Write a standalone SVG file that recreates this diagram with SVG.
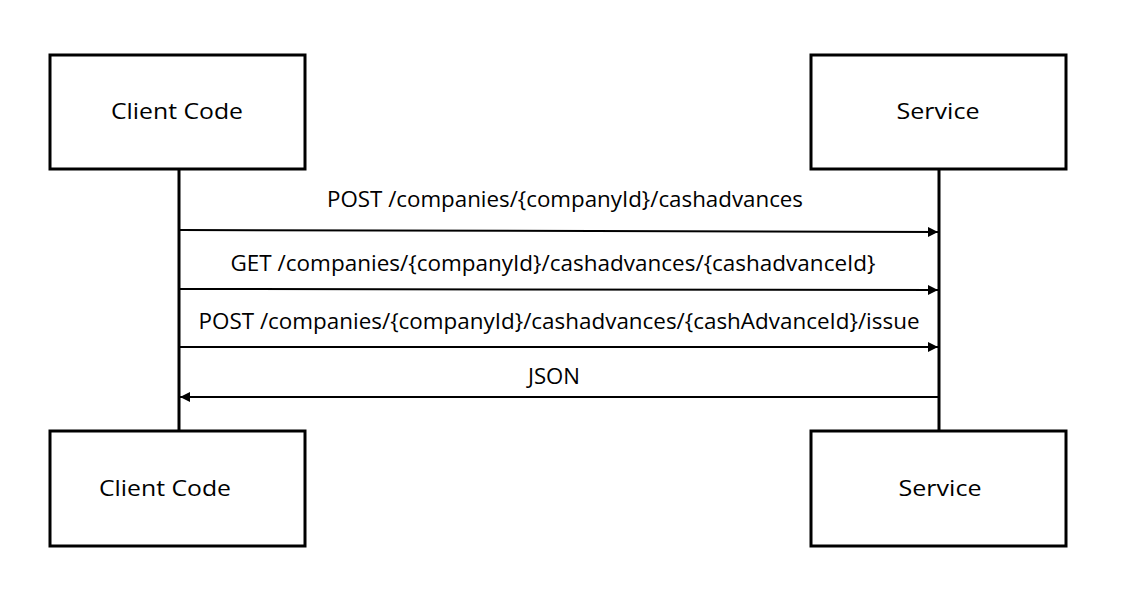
<svg xmlns="http://www.w3.org/2000/svg" width="1144" height="596" viewBox="0 0 1144 596">
<style>
.box{fill:#fff;stroke:#000;stroke-width:3}
.life{stroke:#000;stroke-width:3;fill:none}
.msg{stroke:#000;stroke-width:2;fill:none}
text{font-family:"Open Sans","Liberation Sans",sans-serif;font-size:21px;fill:#000;text-anchor:middle}
</style>
<defs>
<marker id="ah" viewBox="0 0 10 10" refX="10" refY="5" markerWidth="5" markerHeight="5" orient="auto" markerUnits="strokeWidth">
<path d="M0,0 L10,5 L0,10 z" fill="#000"/>
</marker>
</defs>
<rect width="1144" height="596" fill="#fff"/>
<g id="lifelines">
<line class="life" x1="179" y1="169" x2="179" y2="431"/>
<line class="life" x1="939" y1="169" x2="939" y2="431"/>
</g>
<g id="client-top"><rect class="box" x="50" y="55" width="255" height="114"/><text x="177" y="119" textLength="132" lengthAdjust="spacingAndGlyphs">Client Code</text></g>
<g id="service-top"><rect class="box" x="811" y="55" width="255" height="114"/><text x="938" y="119" textLength="83" lengthAdjust="spacingAndGlyphs">Service</text></g>
<g id="client-bottom"><rect class="box" x="50" y="431" width="255" height="115"/><text x="165" y="496" textLength="132" lengthAdjust="spacingAndGlyphs">Client Code</text></g>
<g id="service-bottom"><rect class="box" x="811" y="431" width="255" height="115"/><text x="940" y="496" textLength="83" lengthAdjust="spacingAndGlyphs">Service</text></g>
<g id="connectors">
<line class="msg" x1="180" y1="230" x2="938" y2="232" marker-end="url(#ah)"/>
<line class="msg" x1="180" y1="289" x2="938" y2="290" marker-end="url(#ah)"/>
<line class="msg" x1="180" y1="347" x2="938" y2="347" marker-end="url(#ah)"/>
<line class="msg" x1="938" y1="397" x2="180" y2="397" marker-end="url(#ah)"/>
<text x="565" y="207" textLength="476" lengthAdjust="spacingAndGlyphs">POST /companies/{companyId}/cashadvances</text>
<text x="553" y="271" textLength="645" lengthAdjust="spacingAndGlyphs">GET /companies/{companyId}/cashadvances/{cashadvanceId}</text>
<text x="559" y="329" textLength="721" lengthAdjust="spacingAndGlyphs">POST /companies/{companyId}/cashadvances/{cashAdvanceId}/issue</text>
<text x="554" y="384" textLength="52" lengthAdjust="spacingAndGlyphs">JSON</text>
</g>
</svg>
